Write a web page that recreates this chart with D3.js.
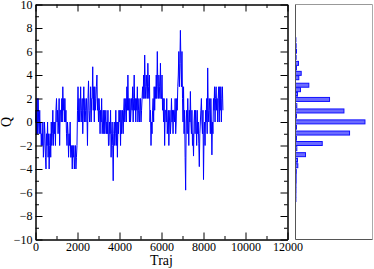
<!DOCTYPE html>
<html><head><meta charset="utf-8">
<script src="https://cdn.jsdelivr.net/npm/d3@7"></script>
<style>
html,body{margin:0;padding:0;background:#fff;}
svg text{font-family:"Liberation Serif","DejaVu Serif",serif;}
</style></head>
<body>
<script>
// ---- data ----
const frameStep = 25; // frames between consecutive samples
// Q trajectory, groups of 4 samples per 100 frames (0 .. 8950)
const qSeries = [
  0, 1, -1, 2,   -1, 2, 0, -1,   1, -1, 0, -2,   -1, -2, 0, -3,
  -2, 0, -1, -3,   -4, -1, -2, 0,   -3, -1, -4, -2,   -1, -3, 0, -2,
  -1, 1, -2, 0,   -1, 0, -2, 1,   2, 0, 1, -1,   0, 2, -2, 1,
  1, 0, 2, 0,   3, 1, 2, 0,   2, 0, 1, -1,   -2, 0, -1, -3,
  -1, -2, 0, -3,   -3, -2, -4, -2,   -3, -2, -4, -3,   -2, -4, -3, -2,
  1, 3, 0, 2,   0, 1, 3, 0,   1, 2, -1, 1,   3, 0, 2, 1,
  0, 2, 1, -2,   2, 3.5, 1, 0,   1, 3, 0, 2,   2, 4.7, 1, 3,
  0, 3, 1, 2,   3, 4, 1, 2,   0, 2, 1, -1,   1, 0, 2, -1,
  0, 1, -1, 1,   -1, 0, 1, -1,   0, -1, 1, -2,   -2, 0, -1, 1,
  -3, -1, 0, -2,   -5, -1, 0, -2,   -1, 1, -2, 0,   -3, 0, -1, 1,
  0, 1, -2, 1,   -1, 0, 1, -1,   1, 2, 0, 1,   2, 0, 3, 1,
  4, 1, 2, 0,   2, 0, 1, 2,   1, 3, 0, 2,   4, 1, 2, 0,
  2, 1, 3, 0,   1, 2, 0, 1,   2, 0, 1, 2,   3, 2, 4, 2,
  5.7, 3, 2, 4,   3, 2, 5, 3,   2, 4, 0, 1,   -2, 0, -1, 1,
  2, 0, 3, 1,   3, 2, 4, 2,   6, 3, 2, 4,   3, 2, 5, 2,
  2, 4, 1, 2,   0, 2, -2, 1,   1, 0, 2, -1,   0, 1, -2, 0,
  1, -1, 0, 2,   0, 1, -1, 1,   1, 0, 2, -1,   0, 2, 1, 3,
  4, 6, 3, 5,   7.8, 5, 3, 6,   2, 0, 3, -1,   1, -3, -5.8, 0,
  1, -1, 2, 0,   -2, 1, 0, 2.6,   0, -1, 1, -2,   -1, -2.9, 0, 1,
  -1, 1, 0, -2,   1, -1, 0, -1.8,   -3.8, -1, 0, 1,   2, 0, -1, 1,
  -4.9, -1, 0, -2,   1, 0, 2, -1,   4.6, 1, 0, 2,   1, -1, 2, 0,
  -2.8, 0, -1, 2,   1, 3, 0, 2,   3, 1, 2, 0,   2, 3, 0, 3,
  1, 3, 0, 2,   3, 1
];
// histogram of Q: bin centres and counts
const histQ = [7.0, 6.5, 6.03, 5.5, 4.99, 4.6, 4.14, 3.77, 3.13, 2.75, 2.37, 1.92, 1.39, 0.94, 0.5, 0.01,
  -0.44, -0.94, -1.38, -1.83, -2.27, -2.78, -3.25, -3.72, -4.2, -4.6, -5.0, -5.4, -5.8, -6.2, -6.6];
const histCount = [5, 8, 13, 8, 39, 13, 74, 43, 173, 65, 26, 442, 17, 629, 13, 902,
  13, 702, 13, 347, 17, 130, 26, 30, 10, 8, 8, 6, 6, 5, 5];
const histBinWidth = 0.34;
const xTicks = [0, 2000, 4000, 6000, 8000, 10000, 12000];
const yTicks = [-10, -8, -6, -4, -2, 0, 2, 4, 6, 8, 10];

// ---- layout ----
const W = 374, H = 269;
const svg = d3.select("body").append("svg").attr("width", W).attr("height", H);

const x = d3.scaleLinear().domain([0, 12000]).range([35.5, 287.5]);
const y = d3.scaleLinear().domain([-10, 10]).range([239.5, 4.5]);
const xh = d3.scaleLinear().domain([0, 1000]).range([295.5, 372.5]);

// ---- trajectory ----
const pts = qSeries.map((q, i) => [i * frameStep, q]);
svg.append("path")
  .datum(pts)
  .attr("fill", "none")
  .attr("stroke", "#0000ff")
  .attr("stroke-width", 1)
  .attr("d", d3.line().x(d => x(d[0])).y(d => y(d[1])));

// ---- main axes ----
const fontSize = "12px";
function styleAxis(g) {
  g.selectAll("path.domain").attr("stroke", "#000");
  g.selectAll(".tick line").attr("stroke", "#000");
  g.selectAll("text").attr("font-size", fontSize).attr("fill", "#000")
   .style("font-family", '"Liberation Serif", serif');
}
const minorX = d3.range(1000, 12000, 2000);
const minorY = d3.range(-9, 10, 2);

// bottom
svg.append("g").attr("transform", `translate(0,239.5)`)
  .call(d3.axisBottom(x).tickValues(xTicks).tickSizeInner(-7).tickSizeOuter(0).tickPadding(3).tickFormat(d3.format("d")))
  .call(styleAxis);
svg.append("g").attr("transform", `translate(0,239.5)`)
  .call(d3.axisBottom(x).tickValues(minorX).tickSizeInner(-3.5).tickSizeOuter(0).tickFormat(""))
  .call(styleAxis);
// top
svg.append("g").attr("transform", `translate(0,4.5)`)
  .call(d3.axisTop(x).tickValues(xTicks).tickSizeInner(-7).tickSizeOuter(0).tickFormat(""))
  .call(styleAxis);
svg.append("g").attr("transform", `translate(0,4.5)`)
  .call(d3.axisTop(x).tickValues(minorX).tickSizeInner(-3.5).tickSizeOuter(0).tickFormat(""))
  .call(styleAxis);
// left
svg.append("g").attr("transform", `translate(35.5,0)`)
  .call(d3.axisLeft(y).tickValues(yTicks).tickSizeInner(-7).tickSizeOuter(0).tickPadding(3).tickFormat(d3.format("d")))
  .call(styleAxis);
svg.append("g").attr("transform", `translate(35.5,0)`)
  .call(d3.axisLeft(y).tickValues(minorY).tickSizeInner(-3.5).tickSizeOuter(0).tickFormat(""))
  .call(styleAxis);
// right
svg.append("g").attr("transform", `translate(287.5,0)`)
  .call(d3.axisRight(y).tickValues(yTicks).tickSizeInner(-7).tickSizeOuter(0).tickFormat(""))
  .call(styleAxis);
svg.append("g").attr("transform", `translate(287.5,0)`)
  .call(d3.axisRight(y).tickValues(minorY).tickSizeInner(-3.5).tickSizeOuter(0).tickFormat(""))
  .call(styleAxis);

// axis titles
svg.append("text").attr("x", (x.range()[0] + x.range()[1]) / 2).attr("y", 265)
  .attr("text-anchor", "middle").attr("font-size", "14px").text("Traj");
svg.append("text").attr("transform", "translate(11,122) rotate(-90)")
  .attr("text-anchor", "middle").attr("font-size", "14px").text("Q");

// ---- histogram panel ----
const hist = histQ.map((q, i) => ({q, c: histCount[i]}));
svg.append("g").selectAll("rect").data(hist).join("rect")
  .attr("x", xh(0))
  .attr("y", d => y(d.q + histBinWidth / 2))
  .attr("width", d => xh(d.c) - xh(0))
  .attr("height", d => y(d.q - histBinWidth / 2) - y(d.q + histBinWidth / 2))
  .attr("fill", "#6b6bff")
  .attr("stroke", "#1010ff")
  .attr("stroke-width", 1);

// panel frame
const hx0 = xh.range()[0], hx1 = xh.range()[1], hy0 = y.range()[1], hy1 = y.range()[0];
svg.append("line").attr("x1", hx0).attr("x2", hx1).attr("y1", hy0).attr("y2", hy0).attr("stroke", "#999");
svg.append("line").attr("x1", hx1).attr("x2", hx1).attr("y1", hy0).attr("y2", hy1).attr("stroke", "#aaa");
svg.append("line").attr("x1", hx0).attr("x2", hx1).attr("y1", hy1).attr("y2", hy1).attr("stroke", "#555");
svg.append("line").attr("x1", hx0).attr("x2", hx0).attr("y1", hy0).attr("y2", hy1).attr("stroke", "#555");
</script>
</body></html>
